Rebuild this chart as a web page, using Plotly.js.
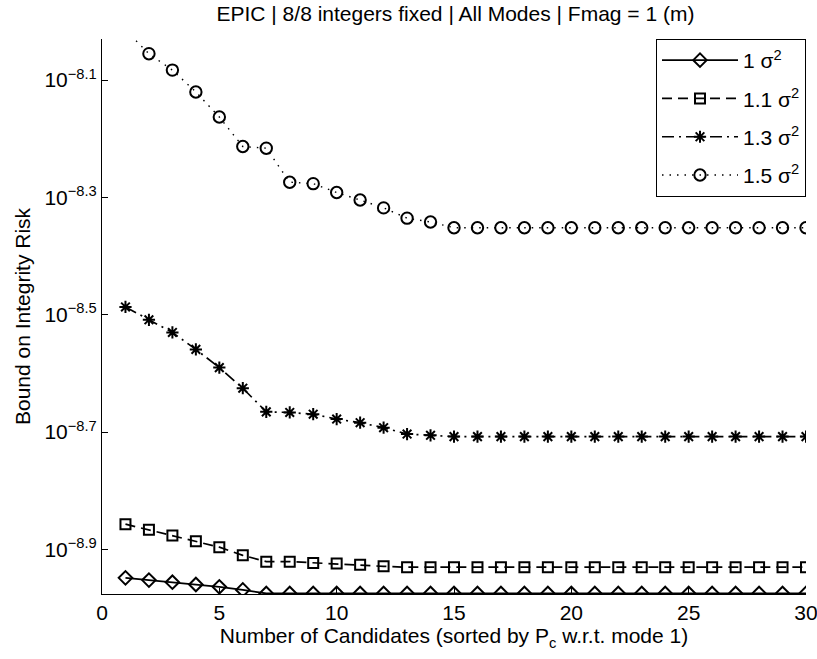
<!DOCTYPE html>
<html>
<head>
<meta charset="utf-8">
<script src="https://cdn.plot.ly/plotly-3.0.1.min.js"></script>
<style>html,body{margin:0;padding:0;background:#fff;}#chart{width:817px;height:659px;}</style>
</head>
<body>
<div id="chart"></div>
<script>
// Number of candidates
var candidates = [1,2,3,4,5,6,7,8,9,10,11,12,13,14,15,16,17,18,19,20,21,22,23,24,25,26,27,28,29,30];
// Bound on integrity risk for each variance inflation
var risk_1_0 = [1.126e-9,1.116e-9,1.107e-9,1.097e-9,1.087e-9,1.074e-9,1.059e-9,1.059e-9,1.059e-9,1.059e-9,1.059e-9,1.059e-9,1.059e-9,1.059e-9,1.059e-9,1.059e-9,1.059e-9,1.059e-9,1.059e-9,1.059e-9,1.059e-9,1.059e-9,1.059e-9,1.059e-9,1.059e-9,1.059e-9,1.059e-9,1.059e-9,1.059e-9,1.059e-9];
var risk_1_1 = [1.39e-9,1.36e-9,1.33e-9,1.30e-9,1.27e-9,1.23e-9,1.20e-9,1.20e-9,1.194e-9,1.191e-9,1.185e-9,1.178e-9,1.174e-9,1.174e-9,1.174e-9,1.174e-9,1.174e-9,1.174e-9,1.174e-9,1.174e-9,1.174e-9,1.174e-9,1.174e-9,1.174e-9,1.174e-9,1.174e-9,1.174e-9,1.174e-9,1.174e-9,1.174e-9];
var risk_1_3 = [3.26e-9,3.10e-9,2.95e-9,2.76e-9,2.57e-9,2.37e-9,2.16e-9,2.155e-9,2.14e-9,2.10e-9,2.07e-9,2.03e-9,1.98e-9,1.97e-9,1.96e-9,1.96e-9,1.96e-9,1.96e-9,1.96e-9,1.96e-9,1.96e-9,1.96e-9,1.96e-9,1.96e-9,1.96e-9,1.96e-9,1.96e-9,1.96e-9,1.96e-9,1.96e-9];
var risk_1_5 = [9.66e-9,8.81e-9,8.26e-9,7.58e-9,6.87e-9,6.12e-9,6.08e-9,5.32e-9,5.29e-9,5.11e-9,4.96e-9,4.81e-9,4.62e-9,4.55e-9,4.45e-9,4.45e-9,4.45e-9,4.45e-9,4.45e-9,4.45e-9,4.45e-9,4.45e-9,4.45e-9,4.45e-9,4.45e-9,4.45e-9,4.45e-9,4.45e-9,4.45e-9,4.45e-9];
var seriesNames = ['1 σ<sup>2</sup>','1.1 σ<sup>2</sup>','1.3 σ<sup>2</sup>','1.5 σ<sup>2</sup>'];
var yTickExps = [-8.9,-8.7,-8.5,-8.3,-8.1];
var yTickLabels = ['10<sup>−8.9</sup>','10<sup>−8.7</sup>','10<sup>−8.5</sup>','10<sup>−8.3</sup>','10<sup>−8.1</sup>'];
var xTicks = [0,5,10,15,20,25,30];

var FONT = 'Liberation Sans, Arial, Helvetica, sans-serif';
var FS = 21;

function tr(y, name, grp, sym, size, dash, lw) {
  return {
    x: candidates, y: y, name: name, legendgroup: grp, type: 'scatter', mode: 'lines+markers',
    line: {color: '#000', width: lw, dash: dash},
    marker: {symbol: sym, size: size, color: '#000', line: {color: '#000', width: 2}},
    cliponaxis: true
  };
}

var data = [
  tr(risk_1_0, seriesNames[0], 'g1', 'diamond-open', 10.4, 'solid', 1.8),
  tr(risk_1_1, seriesNames[1], 'g2', 'square-open', 10, '10px,6px', 1.7),
  tr(risk_1_3, seriesNames[2], 'g3', 'asterisk-open', 10.2, '12px,5px,2px,5px', 1.7),
  tr(risk_1_5, seriesNames[3], 'g4', 'circle-open', 11.4, '1.5px,6px', 1.4)
];

var layout = {
  width: 817, height: 659,
  paper_bgcolor: '#fff', plot_bgcolor: '#fff',
  margin: {l: 102, r: 11, t: 39, b: 65},
  font: {family: FONT, size: FS, color: '#000'},
  title: {text: 'EPIC | 8/8 integers fixed | All Modes | Fmag = 1 (m)', font: {family: FONT, size: FS, color: '#000'},
          x: 0.5575, xanchor: 'center', y: 0.979, yanchor: 'middle', xref: 'container', yref: 'container'},
  showlegend: true,
  legend: {x: 1, xanchor: 'right', y: 1, yanchor: 'top', bgcolor: '#fff', bordercolor: '#000', borderwidth: 1,
           font: {family: FONT, size: FS, color: '#000'}, itemwidth: 76, tracegroupgap: 8},
  xaxis: {
    range: [0, 30], tickvals: xTicks, ticktext: xTicks.map(String),
    showline: true, linecolor: '#000', linewidth: 1, mirror: false,
    ticks: 'inside', ticklen: 6, tickcolor: '#000', showgrid: false, zeroline: false,
    ticklabeloverflow: 'allow',
    tickfont: {family: FONT, size: FS, color: '#000'},
    title: {text: 'Number of Candidates (sorted by P<sub>c</sub> w.r.t. mode 1)', font: {family: FONT, size: FS, color: '#000'}, standoff: 3}
  },
  yaxis: {
    type: 'log', range: [-8.976, -8.03],
    tickvals: yTickExps.map(function(e){return Math.pow(10, e);}), ticktext: yTickLabels,
    showline: true, linecolor: '#000', linewidth: 1, mirror: false,
    ticks: 'inside', ticklen: 6, tickcolor: '#000', showgrid: false, zeroline: false,
    tickfont: {family: FONT, size: FS, color: '#000'},
    title: {text: 'Bound on Integrity Risk', font: {family: FONT, size: FS, color: '#000'}, standoff: 8}
  }
};

Plotly.newPlot('chart', data, layout, {displayModeBar: false, staticPlot: true});
</script>
</body>
</html>
